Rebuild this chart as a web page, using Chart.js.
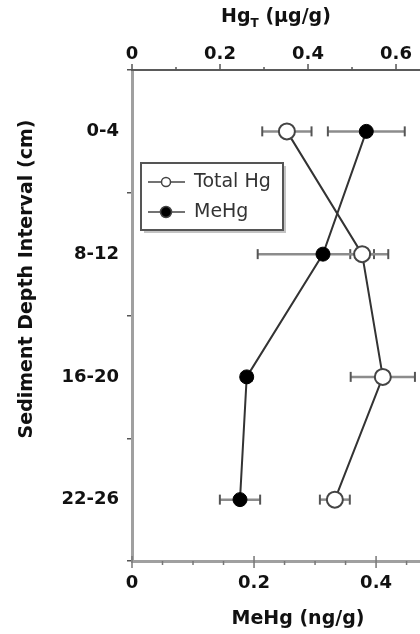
<!DOCTYPE html>
<html lang="en">
<head>
  <meta charset="UTF-8" />
  <title>Sediment Hg profile</title>
  <script src="https://cdn.jsdelivr.net/npm/chart.js"></script>
  <style>
    html, body { margin: 0; padding: 0; background: #fff; }
    #wrap { width: 420px; height: 634px; position: relative; }
  </style>
</head>
<body>

<div id="wrap"><canvas id="grafico"></canvas></div>

<script>
  const depthLabels = ['0-4', '8-12', '16-20', '22-26'];
  const totalHg = [0.352, 0.523, 0.570, 0.461];
  const totalHgErr = [0.056, 0.027, 0.073, 0.034];
  const meHg = [0.384, 0.313, 0.188, 0.177];
  const meHgErr = [0.063, 0.107, 0.008, 0.033];

  const topTicks = [0, 0.1, 0.2, 0.3, 0.4, 0.5, 0.6];
  const topLabels = ['0', '', '0.2', '', '0.4', '', '0.6'];
  const bottomTicks = [0, 0.05, 0.1, 0.15, 0.2, 0.25, 0.3, 0.35, 0.4, 0.45];
  const bottomLabels = ['0', '', '', '', '0.2', '', '', '', '0.4', ''];

  const FONT = "'DejaVu Sans', sans-serif";
  Chart.defaults.font.family = FONT;
  Chart.defaults.color = '#111';

  // error bars go under the lines and points
  const errorBars = {
    id: 'errorBars',
    beforeDatasetsDraw(chart) {
      const ctx = chart.ctx;
      const y = chart.scales.y;
      const sets = [[totalHg, totalHgErr, chart.scales.xTop], [meHg, meHgErr, chart.scales.x]];
      ctx.save();
      sets.forEach(([vals, errs, sx]) => {
        vals.forEach((v, i) => {
          const py = y.getPixelForValue(i);
          const x0 = sx.getPixelForValue(v - errs[i]);
          const x1 = sx.getPixelForValue(v + errs[i]);
          ctx.strokeStyle = '#8c8c8c';
          ctx.lineWidth = 2.5;
          ctx.beginPath(); ctx.moveTo(x0, py); ctx.lineTo(x1, py); ctx.stroke();
          ctx.strokeStyle = '#555';
          ctx.lineWidth = 2;
          [x0, x1].forEach(x => {
            ctx.beginPath(); ctx.moveTo(x, py - 5); ctx.lineTo(x, py + 5); ctx.stroke();
          });
        });
      });
      ctx.restore();
    }
  };

  // tick marks, titles and the boxed legend
  const extras = {
    id: 'extras',
    afterDraw(chart) {
      const ctx = chart.ctx;
      const top = chart.scales.xTop, bot = chart.scales.x;
      ctx.save();

      ctx.strokeStyle = '#555';
      ctx.lineWidth = 1.5;
      top.ticks.forEach((t, i) => {
        const x = top.getPixelForValue(t.value);
        const len = topLabels[i] ? 6 : 3;
        ctx.beginPath(); ctx.moveTo(x, top.bottom); ctx.lineTo(x, top.bottom - len); ctx.stroke();
      });
      ctx.strokeStyle = '#777';
      bot.ticks.forEach((t, i) => {
        const x = bot.getPixelForValue(t.value);
        ctx.beginPath();
        if (bottomLabels[i]) { ctx.moveTo(x, bot.top - 5); ctx.lineTo(x, bot.top + 7); }
        else { ctx.moveTo(x, bot.top); ctx.lineTo(x, bot.top + 4); }
        ctx.stroke();
      });

      // titles
      ctx.fillStyle = '#111';
      ctx.textBaseline = 'alphabetic';
      const big = 'bold 19px ' + FONT, small = 'bold 12px ' + FONT;
      ctx.font = big;
      const wHg = ctx.measureText('Hg').width;
      const wRest = ctx.measureText(' (µg/g)').width;
      ctx.font = small;
      const wT = ctx.measureText('T').width;
      let x = 276 - (wHg + wT + wRest) / 2;
      ctx.textAlign = 'left';
      ctx.font = big; ctx.fillText('Hg', x, 22); x += wHg;
      ctx.font = small; ctx.fillText('T', x, 27); x += wT;
      ctx.font = big; ctx.fillText(' (µg/g)', x, 22);

      ctx.textAlign = 'center';
      ctx.fillText('MeHg (ng/g)', 298, 624);

      ctx.save();
      ctx.translate(32, 279);
      ctx.rotate(-Math.PI / 2);
      ctx.fillText('Sediment Depth Interval (cm)', 0, 0);
      ctx.restore();

      // legend box
      const lx = 141, ly = 163, lw = 142, lh = 67;
      ctx.fillStyle = '#c4c4c4';
      ctx.fillRect(lx + 3, ly + 3, lw, lh);
      ctx.fillStyle = '#fff';
      ctx.fillRect(lx, ly, lw, lh);
      ctx.strokeStyle = '#555';
      ctx.lineWidth = 2;
      ctx.strokeRect(lx, ly, lw, lh);

      const rows = [
        { y: 182, text: chart.data.datasets[0].label, fill: '#fff', r: 4.5 },
        { y: 212, text: chart.data.datasets[1].label, fill: '#000', r: 5.5 }
      ];
      rows.forEach(row => {
        ctx.strokeStyle = '#444';
        ctx.lineWidth = 1.5;
        ctx.beginPath(); ctx.moveTo(148, row.y); ctx.lineTo(185, row.y); ctx.stroke();
        ctx.beginPath(); ctx.arc(166, row.y, row.r, 0, Math.PI * 2);
        ctx.fillStyle = row.fill; ctx.fill(); ctx.stroke();
        ctx.fillStyle = '#333';
        ctx.font = '19px ' + FONT;
        ctx.textAlign = 'left';
        ctx.textBaseline = 'middle';
        ctx.fillText(row.text, 194, row.y);
      });
      ctx.restore();
    }
  };

  const noPad = s => { s.paddingLeft = 0; s.paddingRight = 0; s.paddingTop = 0; s.paddingBottom = 0; };

  new Chart(document.getElementById('grafico').getContext('2d'), {
    type: 'line',
    data: {
      labels: depthLabels,
      datasets: [
        {
          label: 'Total Hg',
          data: totalHg,
          xAxisID: 'xTop',
          yAxisID: 'y',
          borderColor: '#333',
          borderWidth: 2,
          pointRadius: 8,
          pointBackgroundColor: '#fff',
          pointBorderColor: '#444',
          pointBorderWidth: 2
        },
        {
          label: 'MeHg',
          data: meHg,
          xAxisID: 'x',
          yAxisID: 'y',
          borderColor: '#333',
          borderWidth: 2,
          pointRadius: 7,
          pointBackgroundColor: '#000',
          pointBorderColor: '#000',
          pointBorderWidth: 1
        }
      ]
    },
    options: {
      indexAxis: 'y',
      responsive: true,
      maintainAspectRatio: false,
      animation: false,
      layout: { padding: 0, autoPadding: false },
      plugins: { legend: { display: false }, tooltip: { enabled: false } },
      scales: {
        y: {
          type: 'category',
          position: 'left',
          offset: true,
          grid: { offset: true, drawOnChartArea: false, tickLength: 5, color: '#555', lineWidth: 1.5 },
          border: { display: true, color: '#a0a0a0', width: 3 },
          ticks: { padding: 8, color: '#111', font: { size: 18, weight: 'bold' } },
          afterFit: s => { s.width = 132; noPad(s); }
        },
        xTop: {
          type: 'linear',
          axis: 'x',
          position: 'top',
          min: 0,
          max: 0.6545,
          grid: { drawOnChartArea: false, drawTicks: false },
          border: { display: true, color: '#5a5a5a', width: 2 },
          ticks: { padding: 5, autoSkip: false, maxRotation: 0, color: '#111', font: { size: 18, weight: 'bold' },
                   callback: (v, i) => topLabels[i] },
          afterBuildTicks: s => { s.ticks = topTicks.map(v => ({ value: v })); },
          afterFit: s => { s.height = 70; noPad(s); }
        },
        x: {
          type: 'linear',
          position: 'bottom',
          min: 0,
          max: 0.472,
          grid: { drawOnChartArea: false, drawTicks: false },
          border: { display: true, color: '#a0a0a0', width: 3 },
          ticks: { padding: 12, autoSkip: false, maxRotation: 0, color: '#111', font: { size: 18, weight: 'bold' },
                   callback: (v, i) => bottomLabels[i] },
          afterBuildTicks: s => { s.ticks = bottomTicks.map(v => ({ value: v })); },
          afterFit: s => { s.height = 73; noPad(s); }
        }
      }
    },
    plugins: [errorBars, extras]
  });
</script>

</body>
</html>
